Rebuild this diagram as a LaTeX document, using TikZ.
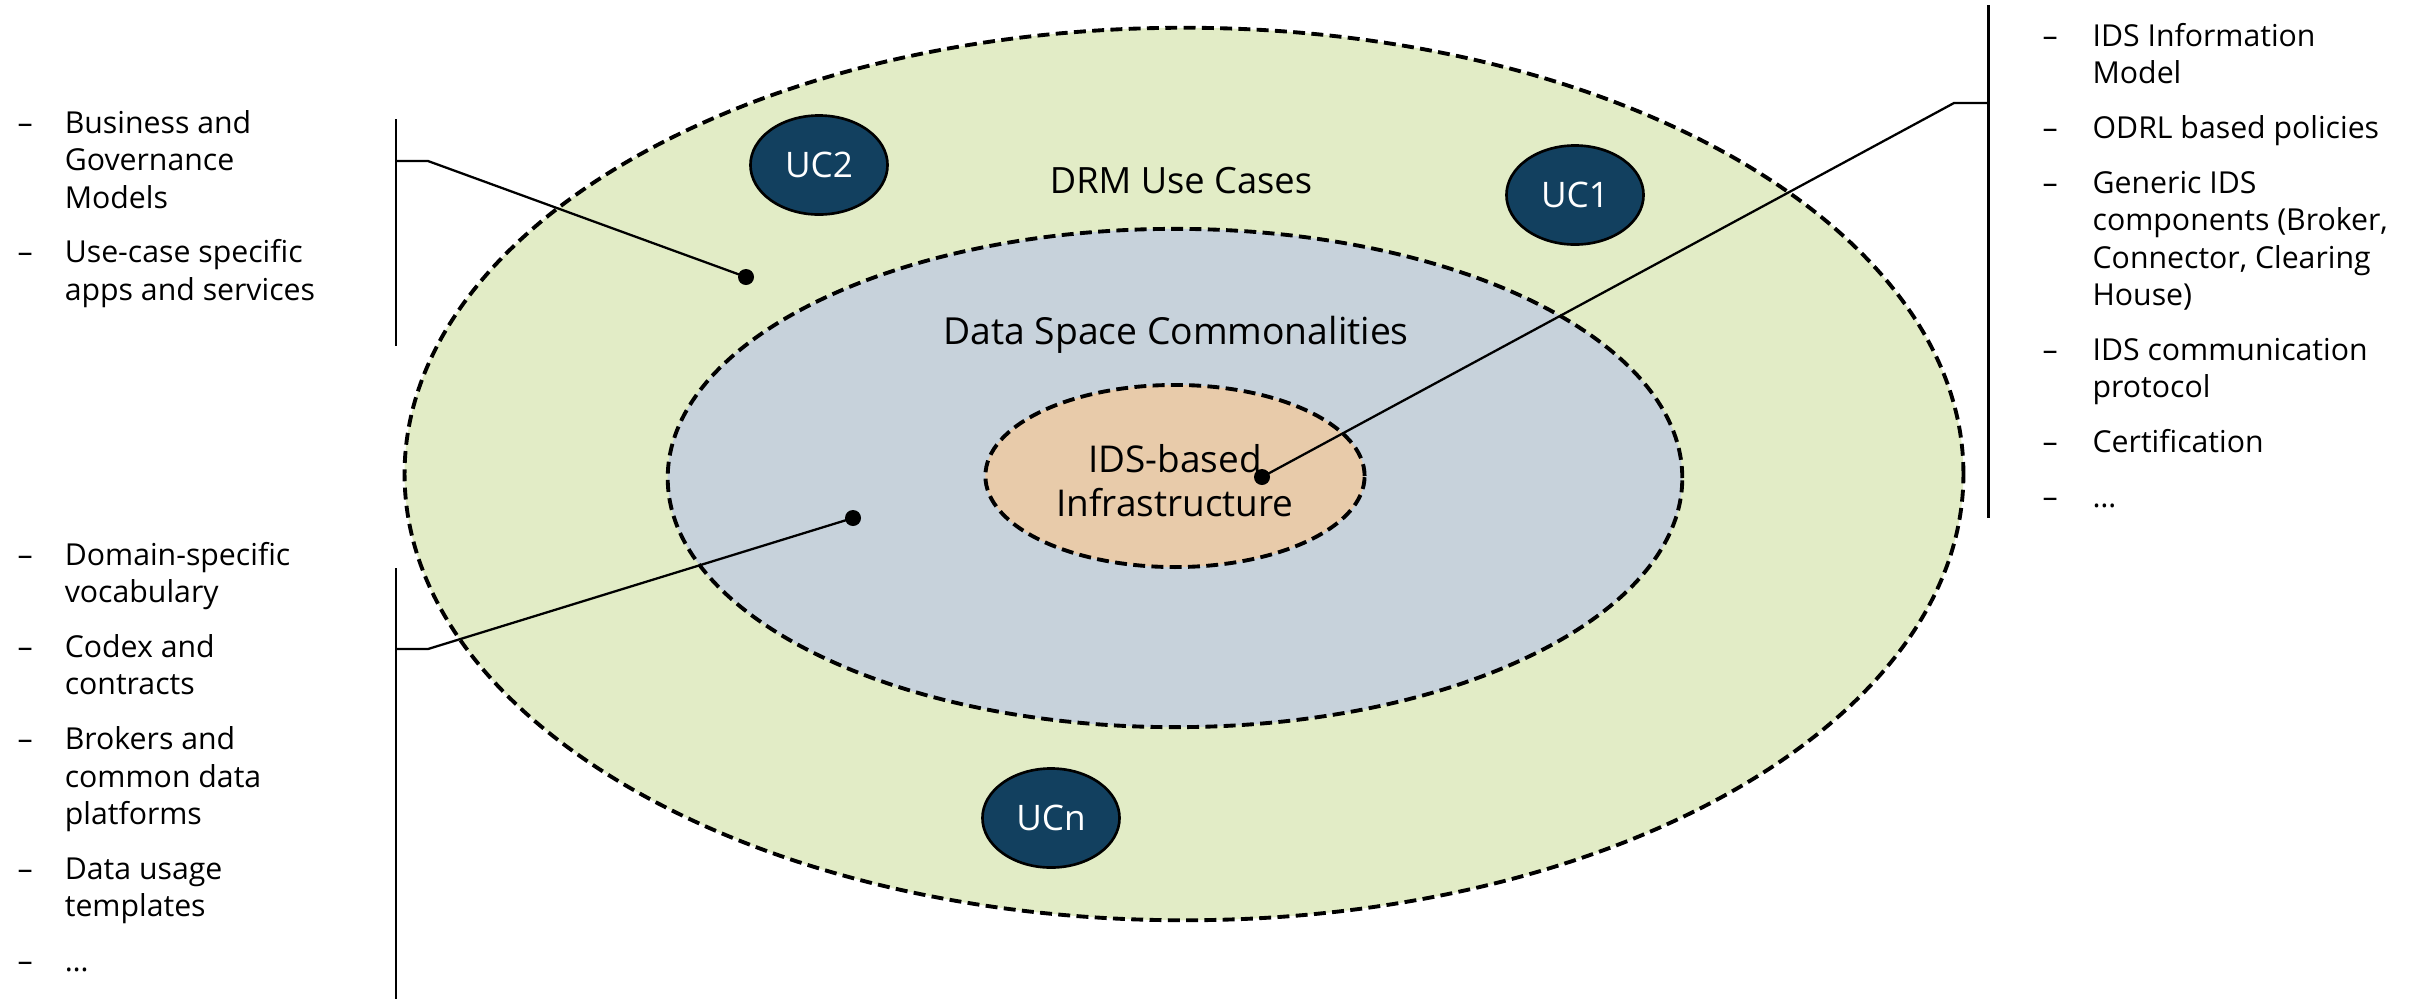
\documentclass[tikz,border=0pt]{standalone}
\usepackage{fontspec}
\setmainfont{Open Sans}
\usepackage{xcolor}
\usetikzlibrary{shapes.geometric, positioning}
\definecolor{drmgreen}{HTML}{E2ECC6}
\definecolor{dscblue}{HTML}{C7D2DB}
\definecolor{idspeach}{HTML}{E8CBAA}
\definecolor{ucblue}{HTML}{12405F}

\begin{document}
\begin{tikzpicture}[
        x=0.01cm, y=-0.01cm,
        every node/.style={font=\fontsize{8.6}{10.67}\selectfont},
        ring/.style={ellipse, draw, dash pattern=on 3.4pt off 1.8pt, line width=1.1pt, inner sep=0pt},
        uc/.style={ellipse, draw, line width=0.75pt, fill=ucblue, text=white, inner sep=0pt, minimum width=1.37cm, minimum height=0.99cm, font=\fontsize{10}{12}\selectfont},
        dot/.style={circle, fill, inner sep=0pt, minimum size=0.16cm},
        lead/.style={line width=0.65pt},
        bar/.style={line width=0.85pt},
        list/.style={anchor=base west, inner sep=0pt, align=left}
    ]
        \useasboundingbox (0,0) rectangle (2420,999);
        \node[ring, fill=drmgreen, minimum width=15.58cm, minimum height=8.92cm] (drm) at (1184,474) {};
        \node[ring, fill=dscblue, minimum width=10.14cm, minimum height=4.98cm] (dsc) at (1175,478) {};
        \node[ring, fill=idspeach, minimum width=3.79cm, minimum height=1.82cm] (ids) at (1175,476) {};
        \node[font=\fontsize{10.3}{12}\selectfont] (drmlbl) at (1181,181) {DRM Use Cases};
        \node[font=\fontsize{10.6}{12.5}\selectfont] (dsclbl) at (1176,335) {Data Space Commonalities};
        \node[font=\fontsize{10.5}{12.5}\selectfont, align=center] (idslbl) at (1175,481) {IDS-based\\Infrastructure};
        \node[uc] (uc2) at (819,165) {UC2};
        \node[uc] (uc1) at (1575,195) {UC1};
        \node[uc] (ucn) at (1051,818) {UCn};
        \node[dot] (dotdrm) at (746,277) {};
        \node[dot] (dotdsc) at (853,518) {};
        \node[dot] (dotids) at (1262,477) {};
        \node[list] (biz) at (17,133) {\begin{tabular}[t]{@{}p{13.4pt}@{}l@{}}
            --& Business and\\
              & Governance\\
              & Models\\[4.9pt]
            --& Use-case specific\\
              & apps and services
        \end{tabular}};
        \node[list] (dom) at (17,565) {\begin{tabular}[t]{@{}p{13.4pt}@{}l@{}}
            --& Domain-specific\\
              & vocabulary\\[4.9pt]
            --& Codex and\\
              & contracts\\[4.9pt]
            --& Brokers and\\
              & common data\\
              & platforms\\[4.9pt]
            --& Data usage\\
              & templates\\[4.9pt]
            --& \dots
        \end{tabular}};
        \node[list] (infra) at (2042,46) {\begin{tabular}[t]{@{}p{14.2pt}@{}l@{}}
            --& IDS Information\\
              & Model\\[4.9pt]
            --& ODRL based policies\\[4.9pt]
            --& Generic IDS\\
              & components (Broker,\\
              & Connector, Clearing\\
              & House)\\[4.9pt]
            --& IDS communication\\
              & protocol\\[4.9pt]
            --& Certification\\[4.9pt]
            --& \dots
        \end{tabular}};
        \coordinate (biztop) at (396,119);
        \coordinate (bizbot) at (396,346);
        \coordinate (biztick) at (396,161);
        \coordinate (bizknee) at (428,161);
        \coordinate (domtop) at (396,568);
        \coordinate (dombot) at (396,999);
        \coordinate (domtick) at (396,649);
        \coordinate (domknee) at (428,649);
        \coordinate (infratop) at (1988,5);
        \coordinate (infrabot) at (1988,518);
        \coordinate (infratick) at (1988,103);
        \coordinate (infraknee) at (1954,103);
        \draw[bar] (biztop) -- (bizbot);
        \draw[bar] (domtop) -- (dombot);
        \draw[bar] (infratop) -- (infrabot);
        \draw[lead] (biztick) -- (bizknee) -- (dotdrm.center);
        \draw[lead] (domtick) -- (domknee) -- (dotdsc.center);
        \draw[lead] (infratick) -- (infraknee) -- (dotids.center);
    \end{tikzpicture}
\end{document}
